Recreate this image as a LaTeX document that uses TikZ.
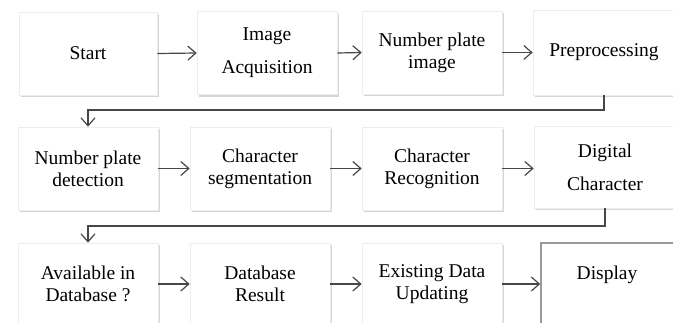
\documentclass[tikz,border=0pt]{standalone}
\usepackage{fontspec}
\setmainfont{Liberation Serif}
\usetikzlibrary{arrows.meta,shadows}
\begin{document}
\begin{tikzpicture}[x=1pt,y=-1pt,
  box/.style={rectangle, fill=white, draw=black!7, line width=0.6pt,
    minimum width=140pt, minimum height=83pt, inner sep=0pt, align=center,
    font=\fontsize{19.5}{22}\selectfont, text=black,
    drop shadow={shadow xshift=1.5pt, shadow yshift=-2pt, fill=black!40, opacity=0.4}},
  dispbox/.style={rectangle, fill=white, draw=black!40, line width=1.5pt,
    minimum width=159pt, minimum height=97pt, inner sep=0pt},
  txt/.style={font=\fontsize{19.5}{22}\selectfont, text=black, align=center},
  arr/.style={draw=black!72, line width=1.2pt, -{Straight Barb[length=8pt,width=14pt,line width=1.2pt]}}
]
\useasboundingbox (0,0) rectangle (673,322);
\clip (0,0) rectangle (673,322);
% row 1
\node[box, minimum width=138pt] (start) at (88,53.5) {Start};
\node[box] (ia) at (267,53) {Image\\[11pt]Acquisition};
\node[box] (npi) at (432,52.5) {Number plate\\image};
\node[box, minimum width=142pt, minimum height=85pt] (pre) at (604,52.5) {Preprocessing};
% row 2
\node[box] (npd) at (88,168.5) {Number plate\\detection};
\node[box] (cs) at (260,168.5) {Character\\segmentation};
\node[box] (cr) at (432,168.5) {Character\\Recognition};
\node[box, minimum width=142pt, minimum height=82pt] (dc) at (605,167) {Digital\\[11pt]Character};
% row 3
\node[box, minimum height=82pt] (adb) at (88,284) {Available in\\Database ?};
\node[box, minimum height=82pt] (dbr) at (260,284) {Database\\Result};
\node[box, minimum height=82pt] (eu) at (432,284) {Existing Data\\Updating};
\node[dispbox] (disp) at (620.5,291.5) {};
\node[txt] (disptext) at (607,275) {Display};
% connectors
\coordinate (m1) at (88,110);
\coordinate (m2) at (88,226);
\draw[arr] (start.east) -- (ia.west);
\draw[arr] (ia.east) -- (npi.west);
\draw[arr] (npi.east) -- (pre.west |- npi.east);
\draw[arr] (pre.south) |- (m1) -- (npd.north);
\draw[arr] (npd.east) -- (cs.west);
\draw[arr] (cs.east) -- (cr.west);
\draw[arr] (cr.east) -- (dc.west |- cr.east);
\draw[arr] (dc.south) |- (m2) -- (adb.north);
\draw[arr] (adb.east) -- (dbr.west);
\draw[arr] (dbr.east) -- (eu.west);
\draw[arr] (eu.east) -- (eu.east -| disp.west);
\end{tikzpicture}
\end{document}
